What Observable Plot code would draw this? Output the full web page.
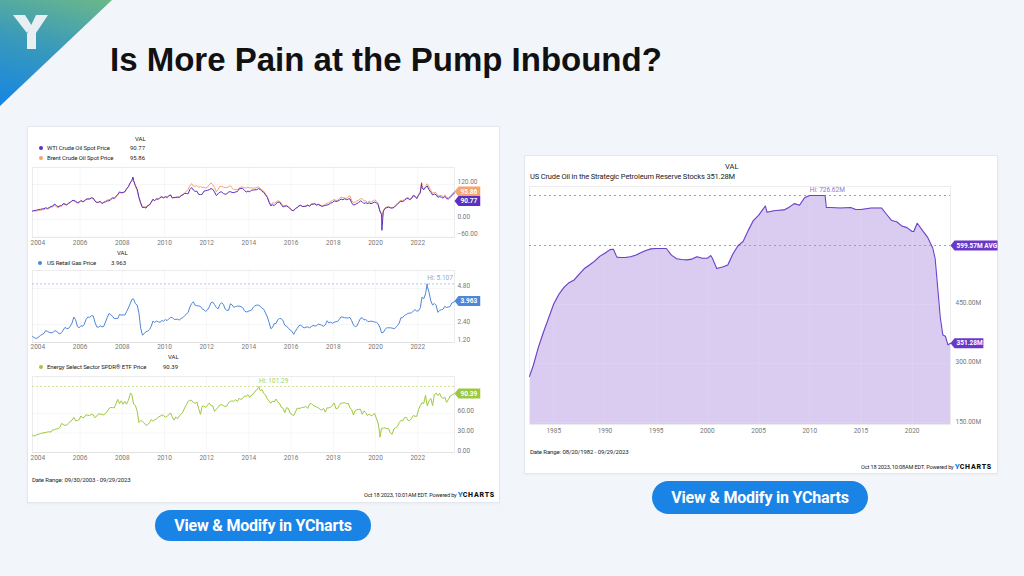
<!DOCTYPE html>
<html><head><meta charset="utf-8">
<script src="https://cdn.jsdelivr.net/npm/d3@7"></script>
<script src="https://cdn.jsdelivr.net/npm/@observablehq/plot@0.6"></script>
<style>
html,body{margin:0;padding:0}
body{width:1024px;height:576px;background:#f2f6fb;position:relative;overflow:hidden;font-family:Roboto,sans-serif}
.abs{position:absolute}
.card{position:absolute;background:#fff;border:1px solid #e3e8ee;box-shadow:0 1px 2px rgba(0,0,0,0.04)}
.t{position:absolute;white-space:nowrap;color:#222;font-family:Roboto,sans-serif}
.btn{position:absolute;background:#1a84e6;color:#fff;font-family:Roboto,sans-serif;font-weight:700;font-size:16px;display:flex;align-items:center;justify-content:center;border-radius:17px;letter-spacing:-0.2px}
.ylogo{color:#1e88e5;font-weight:900}
.clogo{color:#111;font-weight:900;letter-spacing:0.8px}
</style></head>
<body>
<div class="abs" style="left:0;top:0;width:112px;height:106px;clip-path:polygon(0 0,112px 0,0 106px);background:linear-gradient(195deg,#6cb88a 0%,#3b9bb8 45%,#1585e4 100%)"></div>
<svg class="abs" style="left:0;top:0" width="60" height="60"><polygon points="13,15 25,15 32,26 27,33" fill="#e8eff3"/><polygon points="36,15 48,15 36,33 36,49 27,49 27,34" fill="#e8eff3"/></svg>
<div class="t" style="left:110px;top:43px;font-family:'Liberation Sans',Arial,sans-serif;font-weight:700;font-size:33px;line-height:33px;color:#111">Is More Pain at the Pump Inbound?</div>

<div class="card" style="left:27px;top:126px;width:471px;height:375px"></div>
<div class="card" style="left:524px;top:155px;width:472px;height:317px"></div>
<div id="root"></div>

<div class="btn" style="left:155px;top:510px;width:216px;height:31px">View &amp; Modify in YCharts</div>
<div class="btn" style="left:652px;top:481px;width:216px;height:33px">View &amp; Modify in YCharts</div>

<script>
// ---------------- DATA ----------------
// Monthly values, Oct 2003 .. Sep 2023
const wtiMonthly = [
30.3,31.1,32.1,
34.3,34.7,36.7,36.7,40.3,38.0,40.7,44.9,45.9,53.1,48.5,43.3,
46.8,48.0,54.3,53.0,49.8,56.3,58.7,65.0,65.6,62.4,58.3,59.4,
65.5,61.6,62.9,69.4,70.8,70.9,74.4,73.0,63.8,58.9,59.1,62.0,
54.5,59.3,60.4,64.0,63.5,67.5,74.1,72.4,79.9,85.8,94.8,91.7,
93.0,95.4,105.5,112.6,125.4,133.9,133.4,116.7,104.1,76.6,57.3,41.1,
41.7,39.1,47.9,49.7,59.0,69.6,64.2,71.0,69.4,75.7,78.0,74.5,
78.3,76.4,81.2,84.3,73.7,75.3,76.3,76.6,75.2,81.9,84.3,89.2,
89.2,88.6,102.9,109.5,100.9,96.3,97.3,86.3,85.5,86.3,97.2,98.6,
100.3,102.2,106.2,103.3,94.7,82.3,87.9,94.1,94.5,89.5,86.5,87.9,
94.8,95.3,92.9,92.0,94.5,95.8,104.6,106.6,106.3,100.5,93.9,97.6,
94.6,100.8,100.8,102.1,102.2,105.8,103.6,96.5,93.2,84.4,75.8,59.3,
47.2,50.6,47.8,54.5,59.3,59.8,50.9,42.9,45.5,46.2,42.4,37.2,
31.7,30.3,37.5,40.8,46.7,48.8,44.7,44.7,45.2,49.8,45.7,52.0,
52.5,53.5,49.3,51.1,48.5,45.2,46.6,48.0,49.8,51.6,56.6,57.9,
63.7,62.2,62.7,66.3,70.0,67.9,71.0,68.1,70.2,70.8,57.0,49.5,
51.4,55.0,58.2,63.9,60.8,54.7,57.4,54.8,57.0,54.0,57.0,59.9,
57.5,50.5,29.2,16.6,28.6,38.3,40.7,42.3,39.6,39.4,41.0,47.0,
52.0,59.0,62.3,61.7,65.2,71.4,72.5,67.7,71.6,81.5,79.2,71.7,
83.2,91.6,108.5,101.8,109.6,114.8,101.6,93.7,84.3,87.6,84.4,76.4,
78.1,76.8,73.3,79.5,71.6,70.3,76.1,81.4,89.4];
const wtiDaily = [["2003-09-30",29.2],["2008-07-03",145.3],["2020-04-20",-36.98],["2022-03-08",123.7],["2023-09-29",90.77]];

const brentMonthly = [
29.6,28.8,29.8,
31.2,30.9,33.8,33.4,37.9,35.2,38.2,42.7,43.2,49.8,43.1,39.6,
44.5,45.5,53.1,51.9,49.0,55.6,57.9,63.9,63.8,58.9,55.5,56.7,
62.9,60.0,62.1,70.4,70.0,68.9,73.7,73.2,62.8,58.7,58.5,62.4,
54.6,57.8,62.4,67.5,67.9,70.6,75.8,71.2,77.0,82.5,92.1,91.5,
92.0,94.8,103.3,110.4,124.6,133.5,133.9,113.0,99.0,72.8,53.2,41.6,
43.4,43.3,46.5,50.2,57.3,68.6,64.4,72.5,67.7,73.2,77.0,74.7,
76.2,73.8,78.8,84.8,75.9,74.8,75.6,77.1,78.4,83.5,86.2,91.5,
96.5,103.7,114.6,123.3,114.5,113.9,116.7,110.2,112.8,109.6,110.8,107.9,
110.7,119.3,125.5,119.8,110.3,95.2,102.6,113.4,113.0,111.5,109.5,109.2,
113.0,116.1,108.5,102.3,102.6,102.9,107.9,111.3,111.6,109.1,107.8,110.8,
108.1,108.9,107.5,107.8,109.5,111.8,106.8,101.6,97.1,87.4,79.4,62.3,
47.8,58.1,55.9,59.5,64.6,61.7,56.8,46.5,47.6,48.4,44.3,38.9,
30.7,32.2,38.2,41.6,46.7,48.3,44.9,45.8,46.6,49.5,44.7,53.3,
54.6,54.9,51.6,52.3,50.3,46.4,48.5,51.7,56.2,57.5,62.7,64.4,
69.1,65.3,66.0,72.1,77.0,74.4,74.3,72.5,78.9,81.0,64.8,57.4,
59.4,64.0,66.1,71.2,71.3,64.2,63.9,59.0,62.8,59.7,63.2,67.3,
63.6,55.7,32.0,18.4,29.4,40.3,43.2,44.7,40.9,40.2,42.7,49.9,
54.8,62.3,65.4,64.8,68.5,73.2,75.2,70.8,74.5,83.5,81.1,74.2,
86.5,97.1,117.3,104.6,113.3,122.7,111.9,100.5,89.8,93.3,91.4,80.9,
82.5,82.6,78.4,84.6,75.5,74.8,80.1,86.2,94.0];
const brentDaily = [["2003-09-30",27.1],["2008-07-03",143.95],["2020-04-21",9.12],["2022-03-08",127.98],["2023-09-29",95.86]];

const gasMonthly = [
1.56,1.49,1.48,
1.57,1.67,1.74,1.80,1.99,1.94,1.87,1.85,1.85,1.98,1.97,1.84,
1.78,1.86,2.03,2.21,2.13,2.14,2.29,2.50,2.90,2.72,2.27,2.18,
2.32,2.28,2.42,2.75,2.90,2.87,2.98,2.98,2.56,2.24,2.22,2.31,
2.24,2.28,2.56,2.85,3.13,3.05,2.96,2.79,2.80,2.80,3.08,3.02,
3.04,3.03,3.26,3.50,3.77,4.07,4.09,3.79,3.70,3.17,2.15,1.69,
1.79,1.93,1.95,2.06,2.27,2.63,2.54,2.63,2.57,2.55,2.66,2.62,
2.73,2.66,2.78,2.86,2.87,2.74,2.74,2.75,2.70,2.80,2.86,2.99,
3.10,3.21,3.56,3.80,3.91,3.68,3.65,3.64,3.61,3.45,3.38,3.27,
3.38,3.58,3.85,3.90,3.73,3.54,3.44,3.72,3.85,3.75,3.44,3.34,
3.35,3.78,3.71,3.54,3.60,3.63,3.63,3.59,3.53,3.32,3.23,3.27,
3.32,3.36,3.53,3.66,3.69,3.69,3.62,3.49,3.41,3.17,2.91,2.55,
2.12,2.21,2.46,2.47,2.72,2.80,2.79,2.64,2.34,2.29,2.15,2.03,
1.95,1.74,1.96,2.14,2.31,2.37,2.24,2.18,2.22,2.24,2.18,2.26,
2.34,2.30,2.32,2.42,2.39,2.35,2.28,2.38,2.65,2.50,2.56,2.48,
2.55,2.59,2.60,2.75,2.91,2.89,2.85,2.84,2.84,2.87,2.65,2.37,
2.25,2.31,2.55,2.81,2.85,2.71,2.73,2.62,2.59,2.63,2.60,2.56,
2.55,2.44,2.23,1.84,1.87,2.08,2.18,2.18,2.18,2.16,2.11,2.20,
2.33,2.50,2.85,2.86,3.00,3.06,3.14,3.16,3.18,3.29,3.39,3.29,
3.32,3.52,4.22,4.11,4.44,4.93,4.56,3.97,3.70,3.80,3.68,3.21,
3.34,3.39,3.42,3.61,3.53,3.57,3.60,3.84,3.88];
const gasWeekly = [["2003-09-29",1.61],["2008-07-07",4.11],["2022-06-13",5.107],["2023-09-29",3.963]];

const xleMonthly = [
25.5,25.5,27.5,
27.8,29.2,29.5,30.5,30.6,31.5,31.8,31.3,35.0,34.9,36.3,36.3,
38.5,44.6,42.9,41.4,42.4,44.4,48.0,49.7,53.7,48.6,49.0,50.3,
56.0,53.0,54.4,58.0,57.1,56.7,58.6,57.9,53.4,55.7,59.6,58.8,
58.3,57.5,60.3,62.5,67.6,69.0,69.0,68.4,74.8,81.5,75.0,79.3,
74.0,78.3,74.1,80.0,88.6,88.5,74.4,72.3,63.3,46.0,49.0,47.8,
45.3,41.6,42.5,45.6,50.4,48.1,50.3,51.5,54.0,55.7,57.5,57.0,
53.9,55.6,57.5,60.7,54.6,49.7,54.5,52.0,56.1,58.6,62.2,68.3,
73.5,78.6,79.9,80.0,76.8,75.4,77.5,67.4,58.5,71.0,71.1,69.1,
72.6,75.9,71.8,71.5,63.1,66.4,69.1,73.1,73.5,72.0,70.5,71.4,
76.6,78.3,79.3,78.4,80.8,78.4,83.1,81.4,82.9,86.7,86.3,88.5,
84.4,88.3,89.1,94.0,95.8,100.1,95.0,96.6,90.6,88.3,82.3,79.2,
75.7,79.0,77.6,82.0,77.6,75.3,69.4,68.0,61.2,68.8,67.6,60.3,
58.0,56.8,61.9,68.1,67.5,68.2,69.3,69.4,70.6,67.6,74.2,75.3,
72.5,71.2,69.9,68.4,66.6,64.9,67.8,61.9,68.5,68.5,69.5,72.3,
76.0,67.1,67.4,72.5,75.9,75.9,76.4,74.7,75.7,68.7,65.7,57.4,
64.3,65.8,66.1,66.4,58.6,63.7,61.5,56.4,59.2,56.2,57.5,60.0,
52.6,44.9,29.1,37.1,37.3,37.9,36.4,36.5,30.0,28.0,36.3,37.9,
40.2,46.0,49.1,48.6,53.3,54.0,49.1,49.2,52.1,56.7,55.6,55.5,
66.0,72.2,76.4,75.3,87.7,71.5,79.3,82.9,72.0,88.6,91.2,87.5,
90.9,84.6,82.9,84.9,76.9,81.2,86.6,88.1,89.6];
const xleDaily = [["2003-09-30",26.6],["2008-05-20",91.4],["2014-06-23",101.29],["2020-03-18",23.6],["2023-09-29",90.39]];

const sprDates = ["1982-08-20","1982-12-31","1983-06-30","1983-12-31","1984-06-30","1984-12-31","1985-06-30","1985-12-31","1986-06-30","1986-12-31","1987-06-30","1987-12-31","1988-06-30","1988-12-31","1989-06-30","1989-12-31","1990-06-30","1990-10-31","1991-02-28","1991-06-30","1991-12-31","1992-06-30","1992-12-31","1993-06-30","1993-12-31","1994-06-30","1994-12-31","1995-12-31","1996-06-30","1996-12-31","1997-06-30","1997-12-31","1998-06-30","1998-12-31","1999-06-30","1999-12-31","2000-04-30","2000-06-30","2000-11-30","2001-06-30","2001-12-31","2002-06-30","2002-12-31","2003-06-30","2003-12-31","2004-06-30","2004-12-31","2005-08-31","2005-10-31","2006-06-30","2006-12-31","2007-06-30","2007-12-31","2008-06-30","2008-12-31","2009-06-30","2009-12-31","2010-06-30","2010-12-31","2011-06-30","2011-08-15","2011-12-31","2012-12-31","2013-12-31","2014-06-30","2014-12-31","2015-12-31","2016-06-30","2016-12-31","2017-06-30","2017-12-31","2018-06-30","2018-12-31","2019-06-30","2019-12-31","2020-02-28","2020-06-30","2020-12-31","2021-06-30","2021-12-31","2022-03-31","2022-06-30","2022-09-30","2022-12-31","2023-03-31","2023-06-30","2023-09-29"];
const sprValues = [267,294,340,379,415,451,475,493,505,512,527,541,550,560,572,580,589,590,570,569,569,571,575,581,587,591,592,592,575,566,564,563,565,571,567,567,574,567,541,545,550,578,599,610,638,663,676,700,684,688,689,690,697,706,702,721,726.6,726.6,726.5,726.6,696,696,695,696,691,691,695,695,695,679,663,660,649,645,635,635,656,638,621,594,566,492,416,372,369,347,351.28];

const sprHi = {date: "2010-01-01", value: 726.62, label: "Hi: 726.62M"};
const sprAvg = {value: 599.57, label: "599.57M AVG"};
const gasHi = {date: "2022-06-13", value: 5.107, label: "Hi: 5.107"};
const xleHi = {date: "2014-06-23", value: 101.29, label: "Hi: 101.29"};

const latest = [
  {key: "wti", date: "2023-09-29", value: 90.77, label: "90.77"},
  {key: "brent", date: "2023-09-29", value: 95.86, label: "95.86"},
  {key: "gas", date: "2023-09-29", value: 3.963, label: "3.963"},
  {key: "xle", date: "2023-09-29", value: 90.39, label: "90.39"},
  {key: "spr", date: "2023-09-29", value: 351.28, label: "351.28M"}
];

const oilYTicks = [-60, 0, 120];
const gasYTicks = [1.2, 2.4, 4.8];
const xleYTicks = [0, 30, 60];
const sprYTicks = [150, 300, 450];

// ---------------- COLORS ----------------
const C = {wti: "#5a2fc2", brent: "#f6a46c", gas: "#4f86d8", xle: "#9dc83f", spr: "#6a42c8", sprFill: "#dacbf1"};

// ---------------- HELPERS ----------------
const parse = s => new Date(s);
function monthly(vals, extras) {
  const months = d3.utcMonth.range(new Date(Date.UTC(2003, 9, 1)), new Date(Date.UTC(2023, 9, 1)));
  const pts = months.map((m, i) => ({date: d3.utcDay.offset(m, 14), value: vals[i]}));
  extras.forEach(([d, v]) => pts.push({date: parse(d), value: v}));
  return pts.sort((a, b) => a.date - b.date);
}
const wti = monthly(wtiMonthly, wtiDaily);
const brent = monthly(brentMonthly, brentDaily);
const gas = monthly(gasMonthly, gasWeekly);
const xle = monthly(xleMonthly, xleDaily);
const spr = sprDates.map((d, i) => ({date: parse(d), value: sprValues[i]}));
const L = k => latest.filter(d => d.key === k).map(d => ({...d, date: parse(d.date)}));

const root = document.getElementById("root");
function place(node, x, y) {
  const w = document.createElement("div");
  w.className = "abs"; w.style.left = x + "px"; w.style.top = y + "px";
  w.appendChild(node); root.appendChild(w);
}
function txt(html, x, yc, {size = 6.5, color = "#222", weight = 400, right = false, ls = 0} = {}) {
  const el = document.createElement("div");
  el.className = "t";
  el.innerHTML = html;
  el.style.fontSize = size + "px";
  el.style.lineHeight = (size + 4) + "px";
  el.style.top = (yc - (size + 4) / 2) + "px";
  el.style.color = color; el.style.fontWeight = weight;
  el.style.letterSpacing = ls + "px";
  if (right) el.style.right = (1024 - x) + "px"; else el.style.left = x + "px";
  root.appendChild(el);
}
function dot(x, y, color) {
  const el = document.createElement("div");
  el.className = "abs";
  el.style.cssText = `left:${x - 2}px;top:${y - 2}px;width:4px;height:4px;border-radius:2px;background:${color}`;
  root.appendChild(el);
}
const fmt2 = d3.format(".2f");
const baseStyle = {fontFamily: "Roboto, sans-serif", fontSize: "6.5px", color: "#777", background: "transparent", overflow: "visible"};

// Value badge: a text mark whose render adds a pointed label box behind the text (positioned by the scales)
const PTR = 4, PADX = 2, H = 10;
function badge(data, color, {dy = 0} = {}) {
  return Plot.text(data, {
    x: "date", y: "value", text: "label", textAnchor: "start", dx: PTR + PADX, dy,
    fill: "#fff", fontWeight: "bold", fontSize: 6.5, fontFamily: "Roboto, sans-serif",
    render(index, scales, values, dimensions, context, next) {
      const g = next(index, scales, values, dimensions, context);
      for (const i of index) {
        const x = values.x[i] - (PTR + PADX), y = values.y[i];
        const w = data[i].label.length * 3.55 + 2 * PADX;
        const p = document.createElementNS("http://www.w3.org/2000/svg", "path");
        p.setAttribute("d", `M${x},${y}L${x + PTR},${y - H / 2}H${x + PTR + w}V${y + H / 2}H${x + PTR}Z`);
        p.setAttribute("fill", color);
        p.setAttribute("stroke", "none");
        g.insertBefore(p, g.firstChild);
      }
      return g;
    }
  });
}
const yearTicks2 = d3.utcYear.every(2);

function leftPlot({height, top, domain, yticks, dyY, series, hi, hiColor, hiText, badges, xPad}) {
  const marks = [
    Plot.frame({stroke: "#ececec"}),
    Plot.gridX({ticks: yearTicks2, stroke: "#000", strokeOpacity: 0.035}),
    Plot.gridY(yticks, {stroke: "#000", strokeOpacity: 0.035}),
    Plot.axisX({ticks: yearTicks2, tickSize: 0, tickPadding: xPad, tickFormat: "%Y", fill: "#777", label: null}),
    Plot.axisY(yticks, {anchor: "right", tickSize: 0, tickPadding: 3, tickFormat: fmt2, dy: dyY, fill: "#777", label: null})
  ];
  if (hi) {
    marks.push(Plot.ruleY([hi.value], {stroke: hiColor, strokeDasharray: "2,2", strokeWidth: 0.9}));
    marks.push(Plot.text([{...hi, date: parse(hi.date)}], {x: "date", y: "value", text: "label", textAnchor: "start", dy: -6, fill: hiText, fontSize: 6.5}));
  }
  series.forEach(([data, color]) => marks.push(Plot.line(data, {x: "date", y: "value", stroke: color, strokeWidth: 1})));
  badges.forEach(b => marks.push(b));
  const p = Plot.plot({
    width: 472, height, marginLeft: 5, marginRight: 45, marginTop: 4, marginBottom: height - 4 - (domain.px),
    x: {type: "utc", domain: [parse("2003-09-30"), parse("2023-09-29")], label: null},
    y: {domain: domain.y, label: null},
    style: baseStyle,
    marks
  });
  place(p, 27, top);
}

// Oil panel: plot area y 167..237
leftPlot({height: 88, top: 163, domain: {y: [-61.7, 178.3], px: 70}, yticks: oilYTicks, dyY: -3, xPad: 3,
  series: [[brent, C.brent], [wti, C.wti]],
  badges: [badge(L("brent"), C.brent), badge(L("wti"), C.wti, {dy: 8})]});
// Gas panel: plot area y 270..342
leftPlot({height: 88, top: 266, domain: {y: [1.2, 6.0], px: 72}, yticks: gasYTicks, dyY: -3, xPad: 2,
  series: [[gas, C.gas]], hi: gasHi, hiColor: "#a9bfee", hiText: "#8ea8d8",
  badges: [badge(L("gas"), C.gas)]});
// XLE panel: plot area y 376..452
leftPlot({height: 92, top: 372, domain: {y: [0, 116.6], px: 76}, yticks: xleYTicks, dyY: -2, xPad: 3,
  series: [[xle, C.xle]], hi: xleHi, hiColor: "#cde08c", hiText: "#a9cf58",
  badges: [badge(L("xle"), C.xle)]});

// SPR panel: plot area x 529..950, y 186..424
const sprPlot = Plot.plot({
  width: 473, height: 256, marginLeft: 5, marginRight: 47, marginTop: 4, marginBottom: 14,
  x: {type: "utc", domain: [spr[0].date, spr[spr.length - 1].date], label: null},
  y: {domain: [144.7, 749.5], label: null},
  style: baseStyle,
  marks: [
    Plot.areaY(spr, {x: "date", y1: 144.7, y2: "value", fill: C.sprFill}),
    Plot.frame({stroke: "#ececec"}),
    Plot.gridX({ticks: d3.utcYear.every(5), stroke: "#fff", strokeOpacity: 0.12}),
    Plot.gridY(sprYTicks, {stroke: "#fff", strokeOpacity: 0.12}),
    Plot.axisX({ticks: d3.utcYear.every(5), tickSize: 0, tickPadding: 4, tickFormat: "%Y", fill: "#777", label: null}),
    Plot.axisY(sprYTicks, {anchor: "right", tickSize: 0, tickPadding: 5, tickFormat: d => fmt2(d) + "M", dy: -1, fill: "#777", label: null}),
    Plot.ruleY([sprHi.value], {stroke: "#9f88d8", strokeDasharray: "2,3", strokeWidth: 0.9}),
    Plot.ruleY([sprAvg.value], {stroke: "#9f88d8", strokeDasharray: "2,3", strokeWidth: 0.9}),
    Plot.text([{...sprHi, date: parse(sprHi.date)}], {x: "date", y: "value", text: "label", textAnchor: "start", dy: -6, fill: "#8f78d0", fontSize: 6.5}),
    Plot.line(spr, {x: "date", y: "value", stroke: C.spr, strokeWidth: 1.1}),
    badge([{date: spr[spr.length - 1].date, value: sprAvg.value, label: sprAvg.label}], "#6a38c9"),
    badge(L("spr"), "#6a38c9")
  ]
});
place(sprPlot, 524, 182);

// ---------------- TEXT ----------------
txt("VAL", 135, 139, {size: 6});
dot(41, 148, C.wti); txt("WTI Crude Oil Spot Price", 47, 148, {size: 6, ls: -0.1});
txt("90.77", 130, 148, {size: 6});
dot(41, 158, C.brent); txt("Brent Crude Oil Spot Price", 47, 158, {size: 6, ls: -0.1});
txt("95.86", 130, 158, {size: 6});

txt("VAL", 117, 253, {size: 6});
dot(40, 263, C.gas); txt("US Retail Gas Price", 47, 263, {size: 6, ls: -0.1});
txt("3.963", 111, 263, {size: 6});

txt("VAL", 168, 357, {size: 6});
dot(41, 367, C.xle); txt("Energy Select Sector SPDR® ETF Price", 47, 367, {size: 6, ls: -0.1});
txt("90.39", 163, 367, {size: 6});

txt("Date Range: 09/30/2003 - 09/29/2023", 32, 480, {size: 6, ls: -0.1});
txt('Oct 18 2023, 10:01AM EDT. Powered by <span class="ylogo" style="font-size:8px">Y</span><span class="clogo" style="font-size:7px">CHARTS</span>', 495, 495, {size: 5.6, right: true, ls: -0.15});

txt("VAL", 725, 167, {size: 7.5});
txt("US Crude Oil in the Strategic Petroleum Reserve Stocks 351.28M", 530, 177, {size: 7.5, ls: -0.15});
txt("Date Range: 08/20/1982 - 09/29/2023", 530, 452, {size: 6, ls: -0.1});
txt('Oct 18 2023, 10:08AM EDT. Powered by <span class="ylogo" style="font-size:8px">Y</span><span class="clogo" style="font-size:7px">CHARTS</span>', 992, 467, {size: 5.6, right: true, ls: -0.15});
</script>
</body></html>
